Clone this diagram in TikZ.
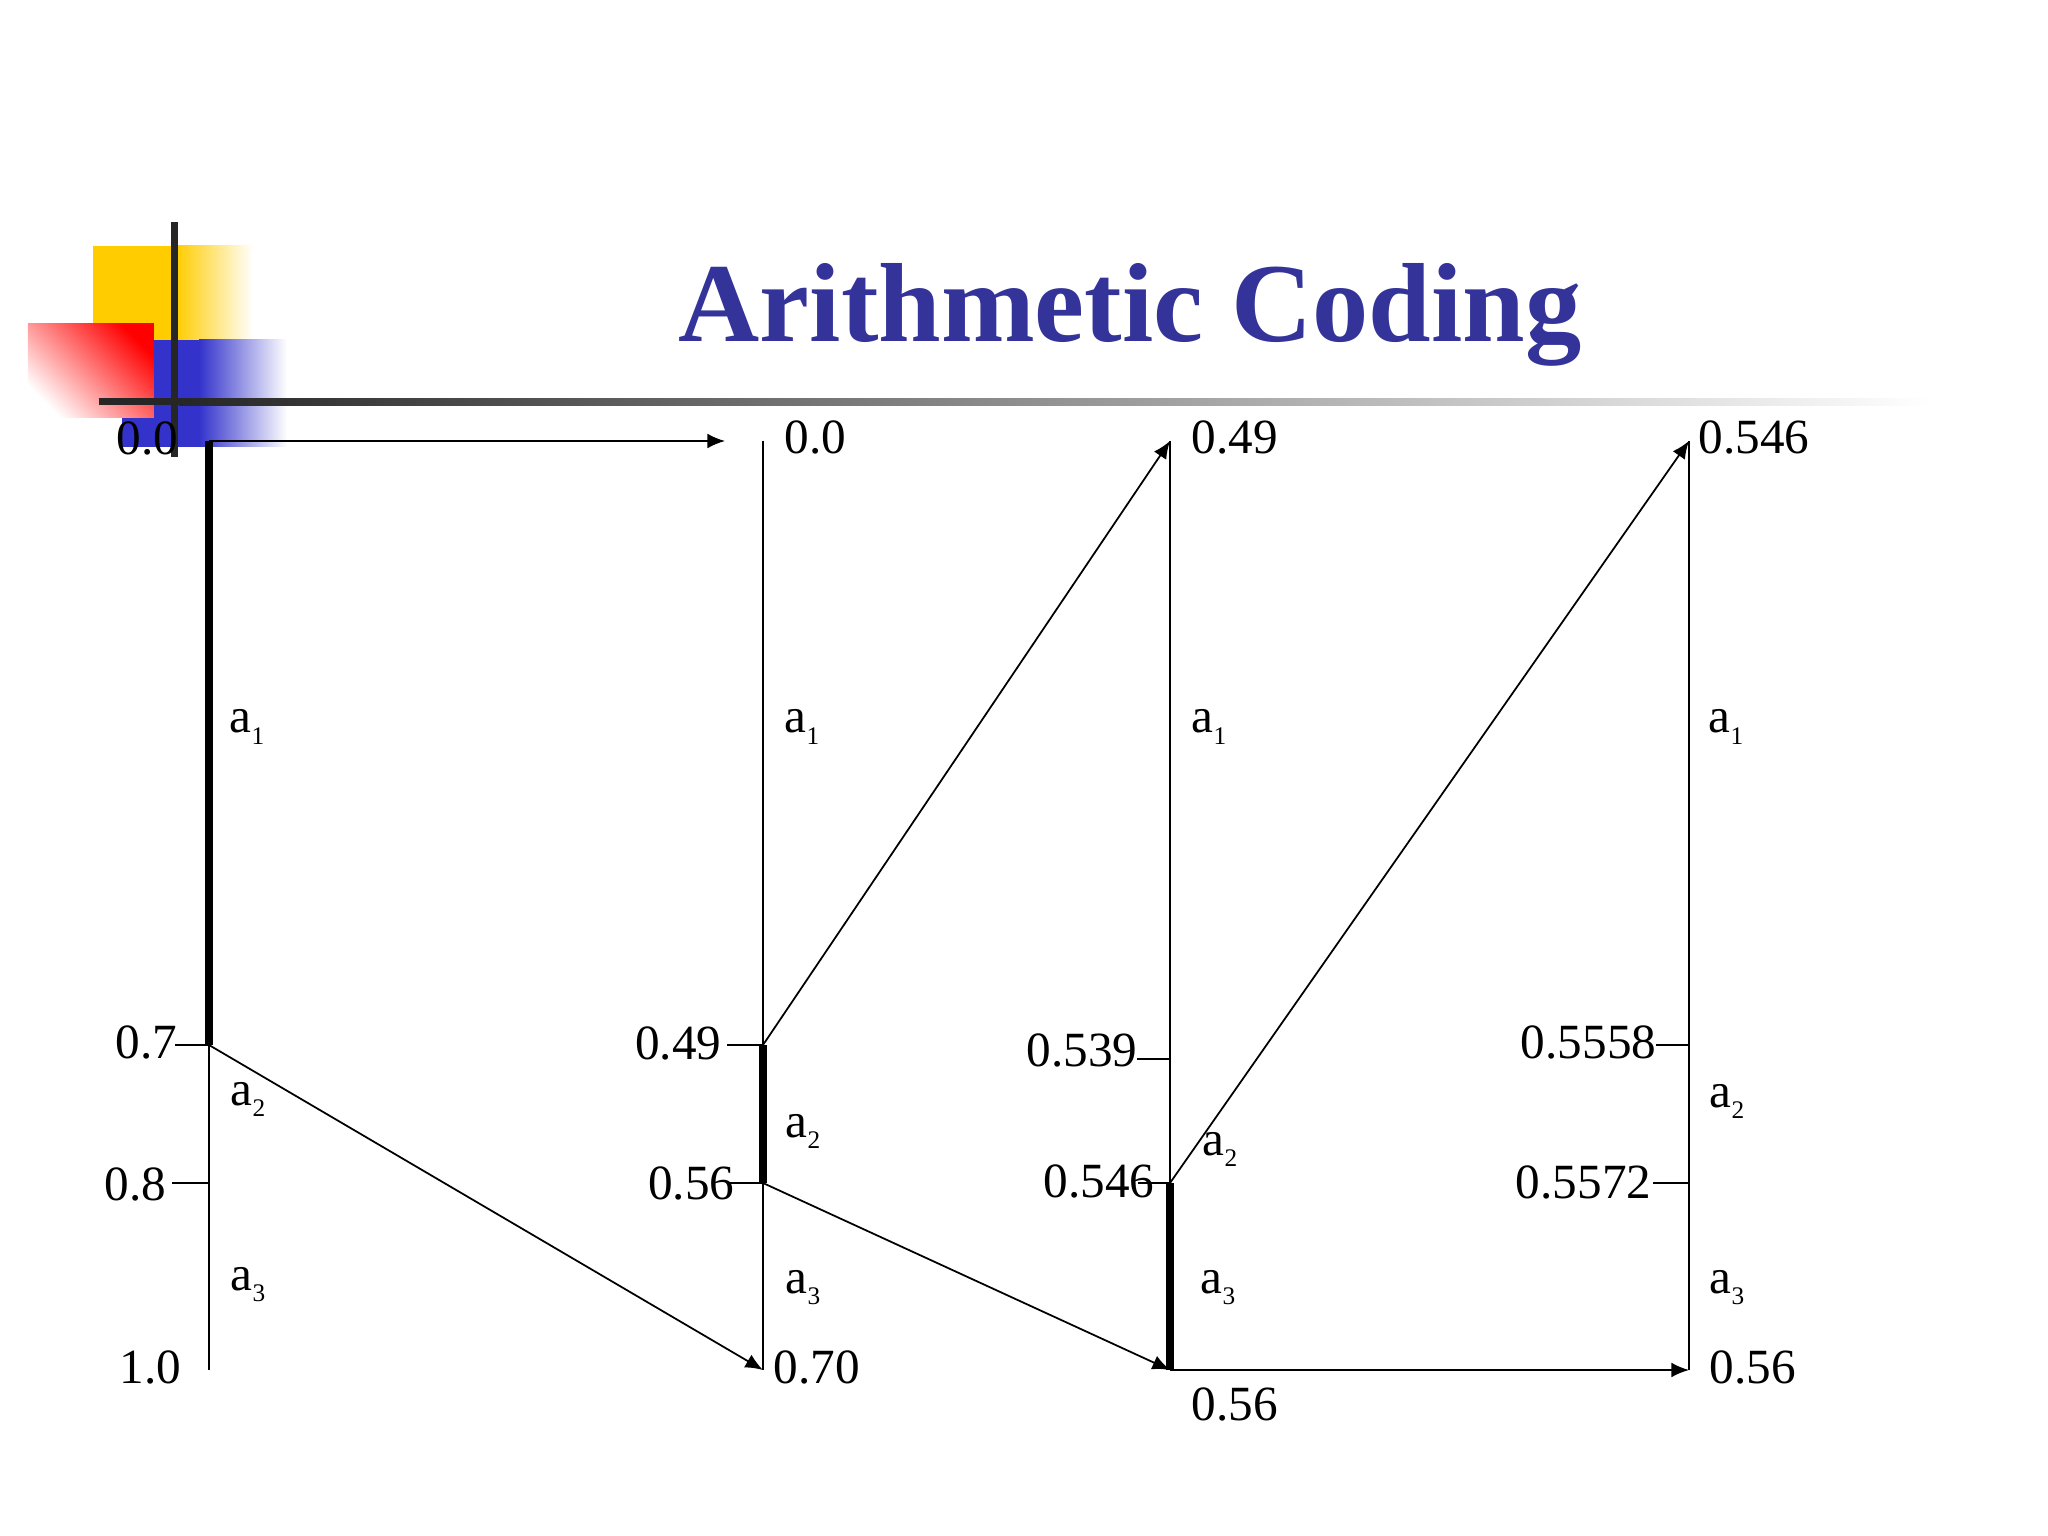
\documentclass[tikz,border=0pt]{standalone}
\usepackage{fontspec}
\setmainfont{Liberation Serif}
\usetikzlibrary{arrows.meta}
\definecolor{titleblue}{RGB}{51,51,153}
\definecolor{logoyellow}{RGB}{255,204,0}
\definecolor{logoblue}{RGB}{51,51,204}
\definecolor{bardark}{RGB}{38,38,38}
\newcommand{\asym}[1]{a\raisebox{-3.4pt}{\fontsize{7.2}{7.2}\selectfont #1}}
\begin{document}
\begin{tikzpicture}[
    num/.style={inner sep=0pt, font=\fontsize{14}{14}\selectfont},
    sym/.style={inner sep=0pt, anchor=base west, font=\fontsize{14}{14}\selectfont},
    thinline/.style={line width=0.5pt},
    thickline/.style={line width=2.1pt},
    arr/.style={-{Latex[length=5pt,width=4.2pt]}, line width=0.5pt},
  ]
    \useasboundingbox (0,0) rectangle (20.48,-15.36);
    % logo
    \fill[logoyellow] (0.93,-2.46) rectangle (1.77,-3.40);
    \shade[left color=logoyellow, right color=white] (1.76,-2.46) rectangle (2.53,-3.40);
    \fill[logoblue] (1.22,-3.40) rectangle (2.00,-4.47);
    \shade[left color=logoblue, right color=white] (1.99,-3.40) rectangle (2.87,-4.47);
    \shade[top color=red, bottom color=white, shading angle=-45] (0.28,-3.24) rectangle (1.54,-4.18);
    \fill[bardark] (1.705,-2.22) rectangle (1.775,-4.57);
    \fill[bardark] (0.99,-3.985) rectangle (1.80,-4.055);
    \shade[left color=bardark, right color=white] (1.79,-3.985) rectangle (19.3,-4.055);
    \node[anchor=base, text=titleblue, font=\fontsize{32}{32}\selectfont\bfseries] (title) at (11.30,-3.42) {Arithmetic Coding};
    % interval points
    \coordinate (c1top) at (2.09,-4.41);
    \coordinate (c1a) at (2.09,-10.45);
    \coordinate (c1b) at (2.09,-11.83);
    \coordinate (c1bot) at (2.09,-13.70);
    \coordinate (c2top) at (7.63,-4.41);
    \coordinate (c2a) at (7.63,-10.45);
    \coordinate (c2b) at (7.63,-11.83);
    \coordinate (c2bot) at (7.63,-13.70);
    \coordinate (c3top) at (11.70,-4.41);
    \coordinate (c3a) at (11.70,-10.59);
    \coordinate (c3b) at (11.70,-11.83);
    \coordinate (c3bot) at (11.70,-13.70);
    \coordinate (c4top) at (16.89,-4.41);
    \coordinate (c4a) at (16.89,-10.45);
    \coordinate (c4b) at (16.89,-11.83);
    \coordinate (c4bot) at (16.89,-13.70);
    % intervals
    \draw[thickline] (c1top) -- (c1a);
    \draw[thinline] (c1a) -- (c1bot);
    \draw[thinline] (c2top) -- (c2a);
    \draw[thickline] (c2a) -- (c2b);
    \draw[thinline] (c2b) -- (c2bot);
    \draw[thinline] (c3top) -- (c3b);
    \draw[thickline] (c3b) -- (c3bot);
    \draw[thinline] (c4top) -- (c4bot);
    \draw[thinline] (c1a) -- ++(-0.34,0);
    \draw[thinline] (c1b) -- ++(-0.37,0);
    \draw[thinline] (c2a) -- ++(-0.36,0);
    \draw[thinline] (c2b) -- ++(-0.36,0);
    \draw[thinline] (c3a) -- ++(-0.33,0);
    \draw[thinline] (c3b) -- ++(-0.32,0);
    \draw[thinline] (c4a) -- ++(-0.33,0);
    \draw[thinline] (c4b) -- ++(-0.36,0);
    % values
    \node[num, anchor=east] (l1top) at (1.79,-4.38) {0.0};
    \node[num, anchor=east] (l1a) at (1.78,-10.42) {0.7};
    \node[num, anchor=east] (l1b) at (1.67,-11.84) {0.8};
    \node[num, anchor=east] (l1bot) at (1.82,-13.67) {1.0};
    \node[num, anchor=west] (l2top) at (7.84,-4.37) {0.0};
    \node[num, anchor=east] (l2a) at (7.22,-10.43) {0.49};
    \node[num, anchor=east] (l2b) at (7.35,-11.83) {0.56};
    \node[num, anchor=west] (l2bot) at (7.73,-13.67) {0.70};
    \node[num, anchor=west] (l3top) at (11.91,-4.37) {0.49};
    \node[num, anchor=east] (l3a) at (11.38,-10.50) {0.539};
    \node[num, anchor=east] (l3b) at (11.55,-11.81) {0.546};
    \node[num, anchor=west] (l3bot) at (11.91,-14.04) {0.56};
    \node[num, anchor=west] (l4top) at (16.98,-4.37) {0.546};
    \node[num, anchor=east] (l4a) at (16.57,-10.42) {0.5558};
    \node[num, anchor=east] (l4b) at (16.52,-11.82) {0.5572};
    \node[num, anchor=west] (l4bot) at (17.09,-13.67) {0.56};
    % symbols
    \node[sym] (s1a) at (2.29,-7.33) {\asym{1}};
    \node[sym] (s1b) at (2.30,-11.05) {\asym{2}};
    \node[sym] (s1c) at (2.30,-12.90) {\asym{3}};
    \node[sym] (s2a) at (7.84,-7.33) {\asym{1}};
    \node[sym] (s2b) at (7.85,-11.37) {\asym{2}};
    \node[sym] (s2c) at (7.85,-12.93) {\asym{3}};
    \node[sym] (s3a) at (11.91,-7.33) {\asym{1}};
    \node[sym] (s3b) at (12.02,-11.55) {\asym{2}};
    \node[sym] (s3c) at (12.00,-12.93) {\asym{3}};
    \node[sym] (s4a) at (17.08,-7.33) {\asym{1}};
    \node[sym] (s4b) at (17.09,-11.07) {\asym{2}};
    \node[sym] (s4c) at (17.09,-12.93) {\asym{3}};
    % mappings
    \path[arr, shorten >=0.38cm] (c1top) edge (c2top);
    \path[arr] (c1a) edge (c2bot);
    \path[arr] (c2a) edge (c3top);
    \path[arr] (c2b) edge (c3bot);
    \path[arr] (c3b) edge (c4top);
    \path[arr] (c3bot) edge (c4bot);
\end{tikzpicture}
\end{document}
